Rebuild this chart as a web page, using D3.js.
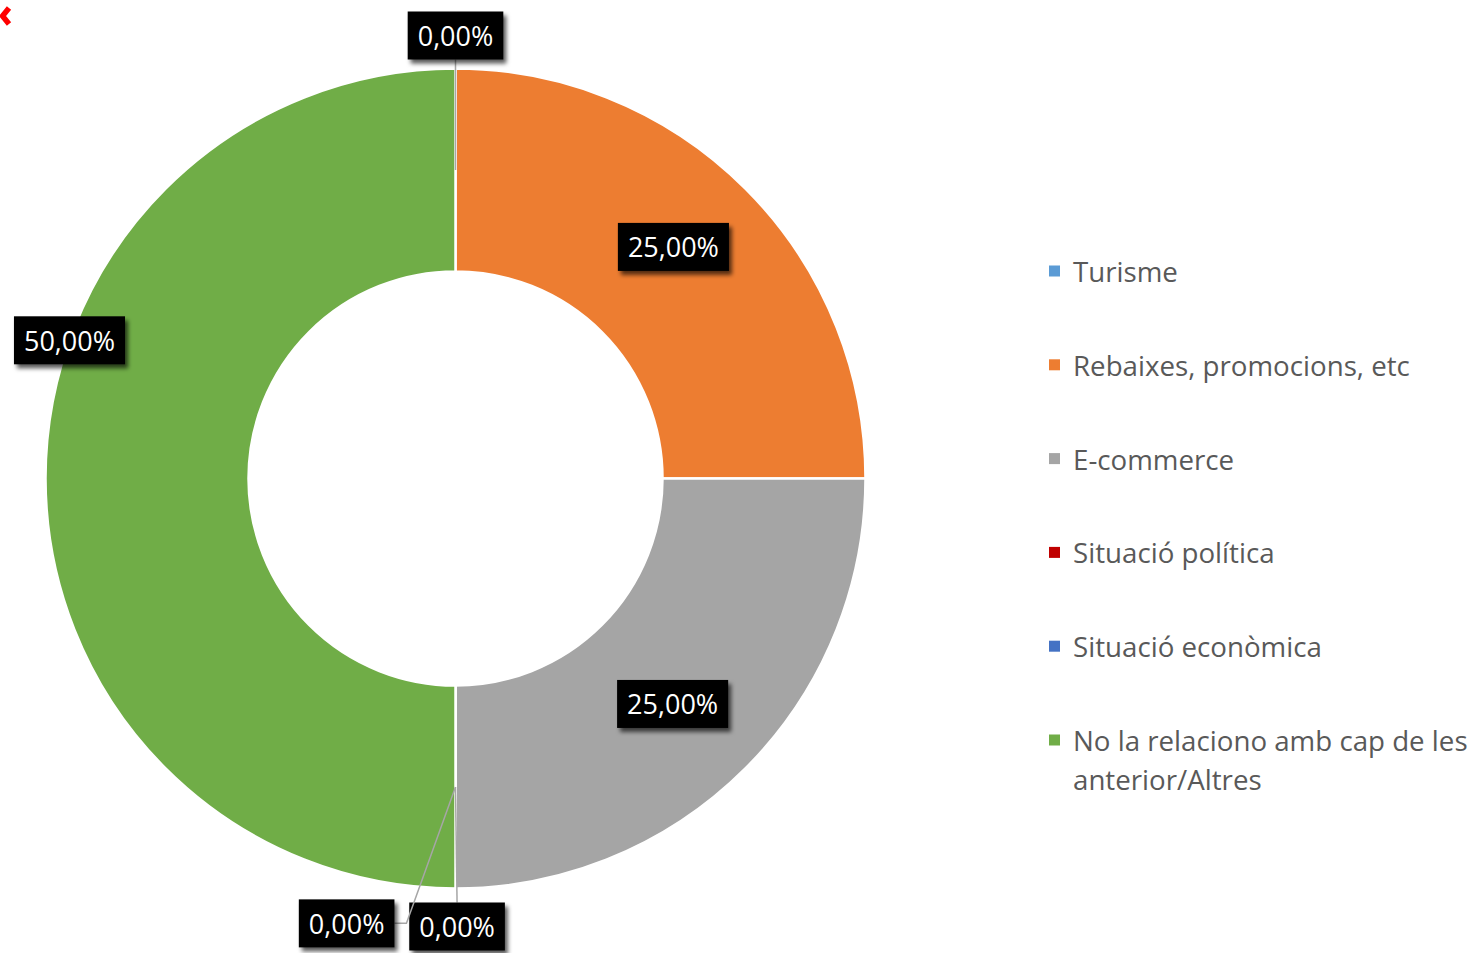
<!DOCTYPE html>
<html>
<head>
<meta charset="utf-8">
<script src="https://cdn.jsdelivr.net/npm/d3@7"></script>
<style>
  html, body { margin: 0; padding: 0; background: #fff; }
  svg { display: block; }
</style>
</head>
<body>
<svg id="chart" width="1472" height="953"></svg>
<script>
// Categories and their shares (percent)
const categories = [
  "Turisme",
  "Rebaixes, promocions, etc",
  "E-commerce",
  "Situació política",
  "Situació econòmica",
  "No la relaciono amb cap de les anterior/Altres"
];
const values = [0, 25, 25, 0, 0, 50];
const colors = ["#5B9BD5", "#ED7D31", "#A5A5A5", "#C00000", "#4472C4", "#70AD47"];
// Legend lines (the last entry wraps)
const legendLines = [
  ["Turisme"],
  ["Rebaixes, promocions, etc"],
  ["E-commerce"],
  ["Situació política"],
  ["Situació econòmica"],
  ["No la relaciono amb cap de les", "anterior/Altres"]
];

const svg = d3.select("#chart");
const cx = 455.5, cy = 478.5;
const outerR = 410, innerR = 207;
const midR = (outerR + innerR) / 2;

const defs = svg.append("defs");
const shadow = defs.append("filter").attr("id", "shadow")
  .attr("x", "-20%").attr("y", "-30%").attr("width", "150%").attr("height", "180%");
shadow.append("feDropShadow")
  .attr("dx", 3).attr("dy", 4).attr("stdDeviation", 2.2)
  .attr("flood-color", "#000").attr("flood-opacity", 0.65);

// small red marker in the corner
svg.append("path")
  .attr("d", "M9,8 L2.5,16 L9,24")
  .attr("fill", "none").attr("stroke", "#ff0000")
  .attr("stroke-width", 5.5).attr("stroke-linejoin", "miter");

const pie = d3.pie().sort(null).value(d => d.value);
const arcs = pie(categories.map((c, i) => ({ name: c, value: values[i], color: colors[i] })));
const arc = d3.arc().innerRadius(innerR).outerRadius(outerR);

const g = svg.append("g").attr("transform", `translate(${cx},${cy})`);

g.selectAll("path.slice")
  .data(arcs)
  .join("path")
  .attr("class", "slice")
  .attr("d", arc)
  .attr("fill", d => d.data.color)
  .attr("stroke", "#fff")
  .attr("stroke-width", 2.5);

// Label placement: polar offset from the donut centre (angle in radians, radius in px),
// plus the leader style for empty slices.
const labelPlacement = [
  { angle: 0, r: 443 },
  { angle: 0.755, r: 318 },
  { angle: 2.375, r: 313 },
  { angle: Math.PI - 0.0035, r: 448, leader: "straight" },
  { angle: Math.PI + 0.24, r: 458, leader: "elbow" },
  { angle: -1.227, r: 410 }
];

const fmt = v => d3.format(".2f")(v).replace(".", ",") + "%";
const boxH = 48, padX = 10;
const labelFont = "27px 'Open Sans', sans-serif";

const labels = g.append("g");
arcs.forEach((d, i) => {
  const p = labelPlacement[i];
  const lx = p.r * Math.sin(p.angle);
  const ly = -p.r * Math.cos(p.angle);
  const txt = fmt(d.data.value);

  // measure text
  const t = labels.append("text").text(txt)
    .style("font", labelFont).attr("visibility", "hidden");
  const tw = t.node().getComputedTextLength();
  t.remove();
  const bw = tw + padX * 2;

  if (d.data.value === 0) {
    // leader line from the slice's mid-radius point
    const a = (d.startAngle + d.endAngle) / 2;
    const sx = midR * Math.sin(a), sy = -midR * Math.cos(a);
    let pts;
    if (p.leader === "elbow") {
      const ex = lx + bw / 2 + 12, ey = ly;
      pts = [[sx, sy], [ex, ey], [lx + bw / 2, ey]];
    } else if (p.leader === "straight") {
      pts = [[sx, sy], [lx, ly - boxH / 2]];
    } else {
      pts = [[sx, sy], [lx, ly + boxH / 2]];
    }
    labels.append("path")
      .attr("d", d3.line()(pts))
      .attr("fill", "none").attr("stroke", "#A6A6A6").attr("stroke-width", 1.5);
  }

  labels.append("rect")
    .attr("x", lx - bw / 2).attr("y", ly - boxH / 2)
    .attr("width", bw).attr("height", boxH)
    .attr("fill", "#000").attr("filter", "url(#shadow)");
  labels.append("text")
    .attr("x", lx).attr("y", ly)
    .attr("text-anchor", "middle").attr("dominant-baseline", "central")
    .attr("fill", "#fff").style("font", labelFont)
    .text(txt);
});

// Legend
const legendY = d3.scalePoint().domain(d3.range(categories.length)).range([271, 740]);
const legend = svg.append("g");
categories.forEach((c, i) => {
  const y = legendY(i);
  legend.append("rect")
    .attr("x", 1049).attr("y", y - 5.5).attr("width", 11).attr("height", 11)
    .attr("fill", colors[i]);
  legendLines[i].forEach((line, j) => {
    legend.append("text")
      .attr("x", 1073).attr("y", y + j * 39)
      .attr("dominant-baseline", "central")
      .attr("fill", "#595959")
      .style("font", "27.7px 'Open Sans', sans-serif")
      .text(line);
  });
});
</script>
</body>
</html>
